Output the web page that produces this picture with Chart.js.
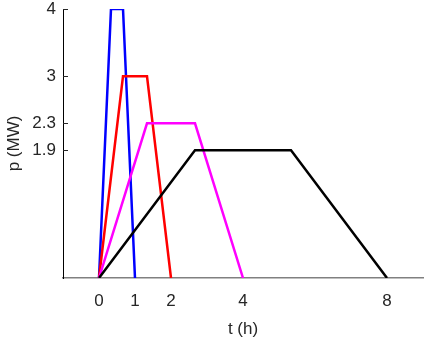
<!DOCTYPE html>
<html>
<head>
<meta charset="utf-8">
<script src="https://cdn.jsdelivr.net/npm/chart.js@4/dist/chart.umd.min.js"></script>
<style>
  html, body { margin: 0; padding: 0; background: #fff; }
  #wrap { width: 434px; height: 344px; }
</style>
</head>
<body>
<div id="wrap"><canvas id="power-chart"></canvas></div>
<script>
// durations (h) and power levels (MW)
const durations = [1, 2, 4, 8];
const powers = [4, 3, 2.3, 1.9];
const colors = ['#0000ff', '#ff0000', '#ff00ff', '#000000'];
const tTicks = [0, 1, 2, 4, 8];
const pTicks = [1.9, 2.3, 3, 4];

// trapezoid profile points for each case
const blueT = [0, 1/3, 2/3, 1];
const blueP = [0, 4, 4, 0];
const redT = [0, 2/3, 4/3, 2];
const redP = [0, 3, 3, 0];
const magentaT = [0, 4/3, 8/3, 4];
const magentaP = [0, 2.3, 2.3, 0];
const blackT = [0, 8/3, 16/3, 8];
const blackP = [0, 1.9, 1.9, 0];

const series = [[blueT, blueP], [redT, redP], [magentaT, magentaP], [blackT, blackP]];

let datasets = [];
series.forEach(function (s, i) {
    let pts = [];
    s[0].forEach(function (t, k) {
        pts.push({x: t, y: s[1][k]});
    });
    datasets.push({
        data: pts,
        borderColor: colors[i],
        borderWidth: 2.5,
        pointRadius: 0,
        tension: 0,
        order: 4 - i
    });
});

// inward tick marks on the y axis
const yTickMarks = {
    id: 'yTickMarks',
    afterDraw(chart) {
        const ctx = chart.ctx;
        const y = chart.scales.y;
        ctx.save();
        ctx.strokeStyle = '#262626';
        ctx.lineWidth = 1;
        pTicks.forEach(function (v) {
            const py = Math.round(y.getPixelForValue(v)) + 0.5;
            ctx.beginPath();
            ctx.moveTo(y.right, py);
            ctx.lineTo(y.right + 5, py);
            ctx.stroke();
        });
        ctx.restore();
    }
};

const font = {family: 'Liberation Sans, Arial, sans-serif', size: 17};

new Chart(document.getElementById('power-chart').getContext('2d'), {
    type: 'line',
    data: {datasets: datasets},
    plugins: [yTickMarks],
    options: {
        responsive: true,
        maintainAspectRatio: false,
        animation: false,
        layout: {padding: {top: 9, right: 11, left: 0, bottom: 0}},
        plugins: {legend: {display: false}, tooltip: {enabled: false}},
        scales: {
            x: {
                type: 'linear',
                min: -1,
                max: 9,
                afterBuildTicks: function (scale) {
                    scale.ticks = tTicks.map(v => ({value: v}));
                },
                afterFit: function (scale) {
                    scale.height = 66;
                    scale.paddingLeft = 0;
                    scale.paddingRight = 0;
                },
                grid: {display: false, drawTicks: false},
                border: {display: true, color: '#808080', width: 1.5},
                ticks: {color: '#262626', font: font, padding: 13, maxRotation: 0},
                title: {display: true, text: 't (h)', color: '#262626', font: font, padding: {top: 0, bottom: 4}}
            },
            y: {
                type: 'linear',
                min: 0,
                max: 4,
                afterBuildTicks: function (scale) {
                    scale.ticks = pTicks.map(v => ({value: v}));
                },
                afterFit: function (scale) {
                    scale.width = 63;
                    scale.paddingTop = 0;
                    scale.paddingBottom = 0;
                },
                grid: {display: false, drawTicks: false},
                border: {display: true, color: '#000000', width: 1},
                ticks: {color: '#262626', font: font, padding: 7,
                    callback: function (v) { return String(v); }},
                title: {display: true, text: 'p (MW)', color: '#262626', font: font, padding: {top: 4, bottom: 0}}
            }
        }
    }
});
</script>
</body>
</html>
